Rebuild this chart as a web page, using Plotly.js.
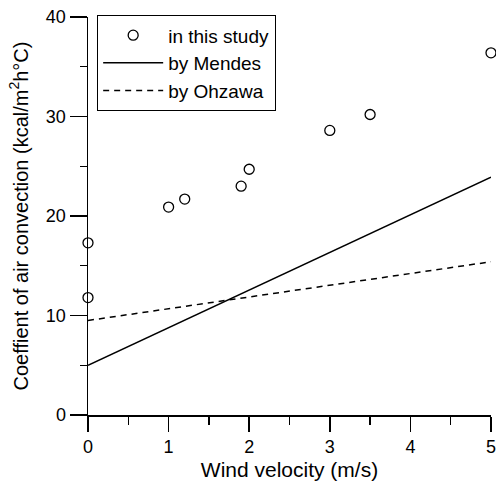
<!DOCTYPE html>
<html><head><meta charset="utf-8">
<script src="https://cdn.plot.ly/plotly-3.0.1.min.js"></script>
<style>html,body{margin:0;padding:0;background:#fff}</style>
</head><body>
<div id="chart" style="width:496px;height:488px"></div>
<script>
var studyX = [0, 0, 1.0, 1.2, 1.9, 2.0, 3.0, 3.5, 5.0];
var studyY = [17.3, 11.8, 20.9, 21.7, 23.0, 24.7, 28.6, 30.2, 36.4];
var mendesX = [0, 5];
var mendesY = [5.0, 23.9];
var ohzawaX = [0, 5];
var ohzawaY = [9.5, 15.4];
var seriesNames = ['in this study', 'by Mendes', 'by Ohzawa'];
var xTitle = 'Wind velocity (m/s)';
var yTitle = 'Coeffient of air convection (kcal/m<sup>2</sup>h\u00B0C)';

var FONT = '"Liberation Sans", Arial, sans-serif';

var traces = [
  {x: studyX, y: studyY, name: seriesNames[0], mode: 'markers', type: 'scatter',
   marker: {symbol: 'circle-open', size: 10, color: '#000', line: {width: 1.3, color: '#000'}}, cliponaxis: false},
  {x: mendesX, y: mendesY, name: seriesNames[1], mode: 'lines', type: 'scatter',
   line: {color: '#000', width: 1.5}},
  {x: ohzawaX, y: ohzawaY, name: seriesNames[2], mode: 'lines', type: 'scatter',
   line: {color: '#000', width: 1.5, dash: '6px,5px'}}
];

var layout = {
  width: 496, height: 488,
  margin: {l: 88, r: 5, t: 17, b: 73},
  paper_bgcolor: '#fff', plot_bgcolor: '#fff',
  font: {family: FONT, size: 18, color: '#000'},
  showlegend: true,
  legend: {x: 0.022, y: 1.005, xanchor: 'left', yanchor: 'top',
    bordercolor: '#000', borderwidth: 1.3, bgcolor: '#fff',
    font: {family: FONT, size: 19, color: '#000'}, itemwidth: 60,
    tracegroupgap: 0},
  xaxis: {
    range: [0, 5], showgrid: false, zeroline: false,
    showline: true, linecolor: '#000', linewidth: 1.5,
    ticks: 'outside', ticklen: 15, tickwidth: 1.5, tickcolor: '#000', dtick: 1,
    minor: {ticks: 'outside', ticklen: 8, tickwidth: 1.3, tickcolor: '#000', dtick: 0.5},
    tickfont: {family: FONT, size: 18},
    ticklabeloverflow: 'allow',
    title: {text: xTitle, font: {family: FONT, size: 21}, standoff: 6}
  },
  yaxis: {
    range: [0, 40], showgrid: false, zeroline: false,
    showline: true, linecolor: '#000', linewidth: 1.5,
    ticks: 'outside', ticklen: 17, tickwidth: 1.5, tickcolor: '#000', dtick: 10,
    minor: {ticks: 'outside', ticklen: 7, tickwidth: 1, tickcolor: '#000', dtick: 5},
    tickfont: {family: FONT, size: 18},
    title: {text: yTitle, font: {family: FONT, size: 20}, standoff: 12}
  }
};

Plotly.newPlot('chart', traces, layout, {displayModeBar: false, staticPlot: true});
</script>
</body></html>
